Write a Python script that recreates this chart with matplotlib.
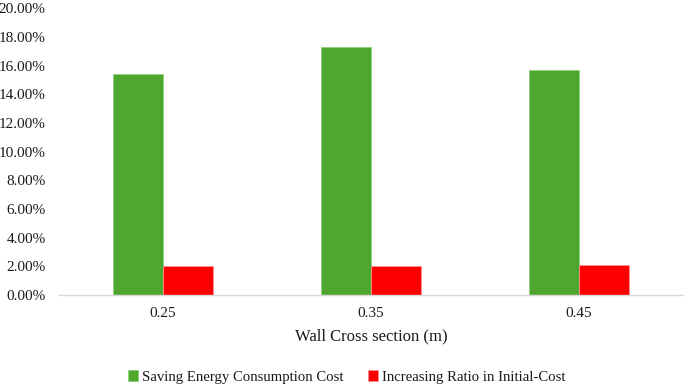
import matplotlib
matplotlib.use("Agg")
import matplotlib.pyplot as plt
import numpy as np
from matplotlib.ticker import FuncFormatter, MultipleLocator

categories = ["0.25", "0.35", "0.45"]
saving = [15.4, 17.3, 15.7]
increasing = [2.0, 2.0, 2.1]
series_names = ["Saving Energy Consumption Cost", "Increasing Ratio in Initial-Cost"]

plt.rcParams['font.family'] = ['Liberation Serif', 'DejaVu Serif']

fig = plt.figure(figsize=(6.85, 3.88), dpi=100)
ax = fig.add_axes([0.086, 0.2397, 0.911, 0.7393])

x = np.arange(len(categories))
w = 0.24
ax.bar(x - w/2, saving, w, color="#4EA72E", edgecolor="#8fcf7a", linewidth=0.6, label=series_names[0])
ax.bar(x + w/2, increasing, w, color="#FF0000", edgecolor="#ff9090", linewidth=0.6, label=series_names[1])

ax.set_xlim(-0.5, 2.5)
ax.set_ylim(0, 20)
ax.yaxis.set_major_locator(MultipleLocator(2))
ax.yaxis.set_major_formatter(FuncFormatter(lambda v, p: f"{v:.2f}%"))
ax.set_xticks(x)
ax.set_xticklabels(categories)
ax.tick_params(axis='both', length=0, labelsize=11, colors="#1a1a1a")
ax.tick_params(axis='x', pad=9)
ax.tick_params(axis='y', pad=9.5)
for s in ["top", "right", "left"]:
    ax.spines[s].set_visible(False)
ax.spines["bottom"].set_color("#d9d9d9")
ax.spines["bottom"].set_linewidth(1.0)

ax.set_xlabel("Wall Cross section (m)", fontsize=12, color="#1a1a1a", labelpad=6)

fig.legend(loc="center", bbox_to_anchor=(0.506, 0.028), ncol=2, frameon=False,
           fontsize=10.6, handlelength=0.7, handleheight=0.7, handletextpad=0.25,
           columnspacing=1.7, labelcolor="#1a1a1a")

fig.savefig("out.png", dpi=100)
